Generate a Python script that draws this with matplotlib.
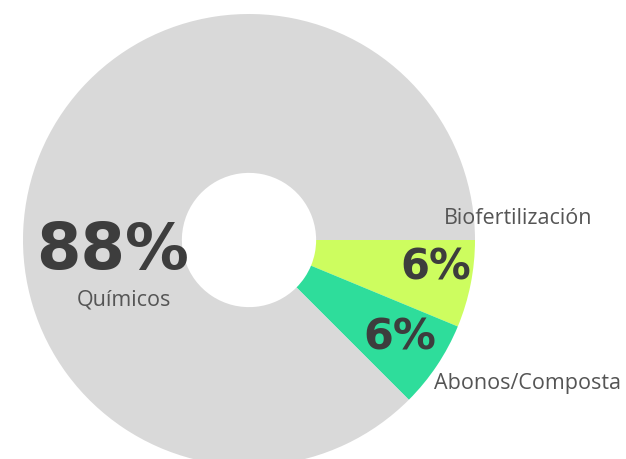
import matplotlib.pyplot as plt

# datos del grafico (los arcos miden 22.5, 22.5 y 315 grados)
categorias = ["Biofertilización", "Abonos/Composta", "Químicos"]
porcentajes = [6.25, 6.25, 87.5]
colores = ["#cdfd5f", "#2edd9b", "#d9d9d9"]

fig = plt.figure(figsize=(6.26, 4.59), dpi=100)
ax = fig.add_axes([0, 0, 1, 1])

# dona: hueco blanco en el centro
ax.pie(porcentajes, colors=colores, startangle=0, counterclock=False,
       radius=1.0, wedgeprops=dict(width=0.703, linewidth=0))

# escala: 226 px por unidad, centro en (249, 240) px
esc = 226.0
cx, cy = 249, 240
ax.set_xlim(-cx / esc, (626 - cx) / esc)
ax.set_ylim(-(459 - cy) / esc, cy / esc)
ax.set_aspect("equal")
ax.axis("off")

def px(x, y):
    return (x - cx) / esc, (cy - y) / esc

oscuro = "#3d3d3d"
gris = "#555555"

ax.text(*px(113, 251), f"{porcentajes[2]:.0f}%", fontsize=46, fontweight="bold",
        color=oscuro, ha="center", va="center")
ax.text(*px(124, 300), categorias[2], fontsize=15.5, family="Open Sans",
        color=gris, ha="center", va="center")

ax.text(*px(436, 268), f"{porcentajes[0]:.0f}%", fontsize=30, fontweight="bold",
        color=oscuro, ha="center", va="center")
ax.text(*px(518, 219), categorias[0], fontsize=15.5, family="Open Sans",
        color=gris, ha="center", va="center")

ax.text(*px(400, 337), f"{porcentajes[1]:.0f}%", fontsize=31, fontweight="bold",
        color=oscuro, ha="center", va="center")
ax.text(*px(527, 384), categorias[1], fontsize=15.5, family="Open Sans",
        color=gris, ha="center", va="center")

fig.savefig("out.png", dpi=100)
